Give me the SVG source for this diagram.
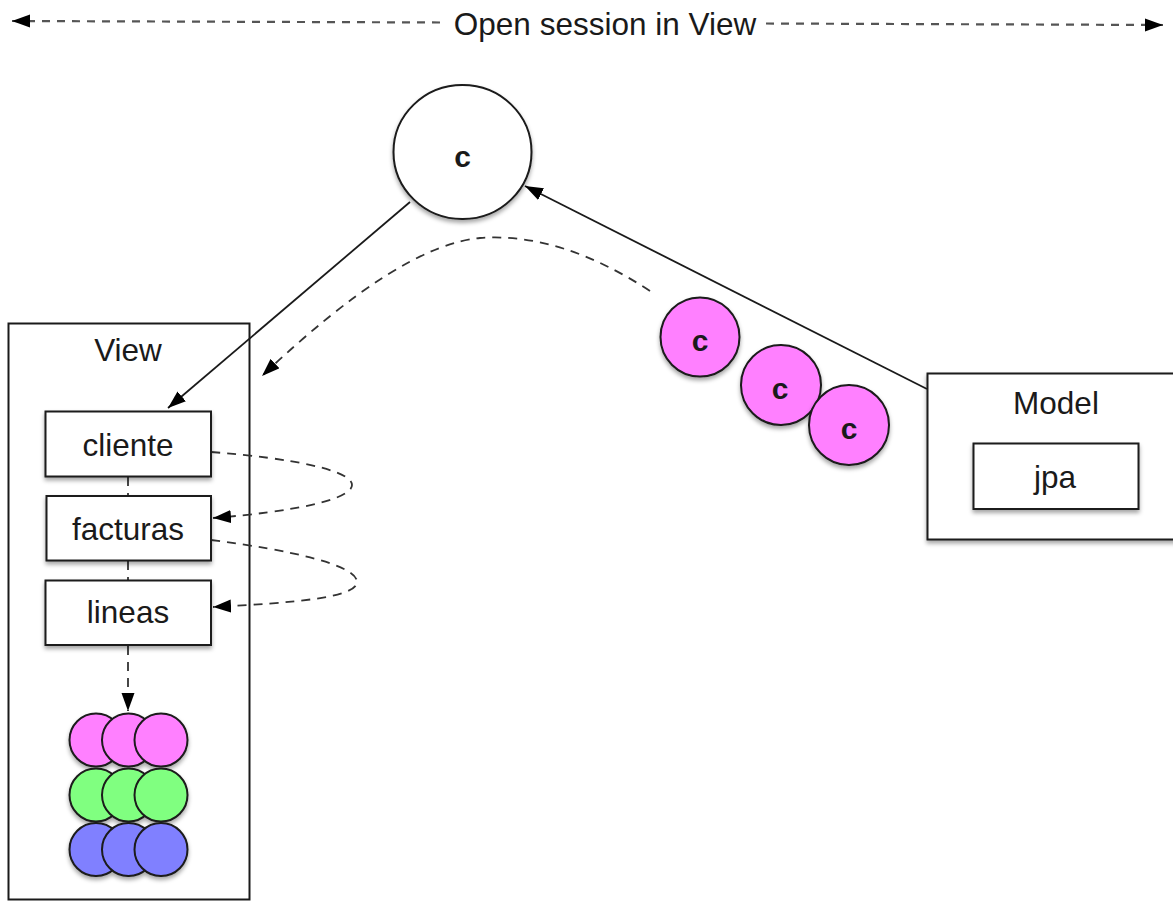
<svg xmlns="http://www.w3.org/2000/svg" width="1173" height="901" viewBox="0 0 1173 901">
  <style>
    .label { font-family: "Liberation Sans", Arial, Helvetica, sans-serif; font-size: 31.5px; fill: #1a1a1a; text-anchor: middle; }
    .tok { font-family: "Liberation Sans", Arial, Helvetica, sans-serif; font-size: 30px; font-weight: bold; fill: #1a1a1a; text-anchor: middle; }
    .box { fill: #ffffff; stroke: #1a1a1a; stroke-width: 2; }
    .frame { fill: #ffffff; stroke: #1a1a1a; stroke-width: 2; }
    .ball { stroke: #1a1a1a; stroke-width: 2; }
    .pink { fill: #ff80ff; }
    .green { fill: #80ff80; }
    .blue { fill: #8080ff; }
    .solid { fill: none; stroke: #1a1a1a; stroke-width: 1.8; }
    .dashed { fill: none; stroke: #333333; stroke-width: 1.8; stroke-dasharray: 9 7; }
    .span { fill: none; stroke: #555555; stroke-width: 2.2; stroke-dasharray: 8 7; }
  </style>
  <defs>
    <marker id="arrow" markerUnits="userSpaceOnUse" markerWidth="19" markerHeight="14" refX="18" refY="6.5" orient="auto-start-reverse">
      <path d="M0,0 L18,6.5 L0,13 Z" fill="#000000"/>
    </marker>
    <filter id="shadow" x="-20%" y="-20%" width="140%" height="150%">
      <feDropShadow dx="0" dy="3" stdDeviation="2" flood-color="#000000" flood-opacity="0.35"/>
    </filter>
  </defs>

  <rect width="1173" height="901" fill="#ffffff"/>

  <!-- session span across the top -->
  <g id="session-span">
    <path class="span" d="M12,21 L446,22.5" marker-start="url(#arrow)"/>
    <path class="span" d="M766,23.5 L1163,25" marker-end="url(#arrow)"/>
    <text class="label" x="605" y="35">Open session in View</text>
  </g>

  <!-- View container -->
  <g id="view">
    <rect class="frame" x="8.5" y="323.5" width="241" height="576"/>
    <text class="label" x="128" y="361">View</text>
  </g>

  <!-- Model container -->
  <g id="model">
    <rect class="frame" x="927.5" y="373.5" width="260" height="166" filter="url(#shadow)"/>
    <text class="label" x="1056" y="414">Model</text>
  </g>

  <g id="jpa">
    <rect class="box" x="973.5" y="443.5" width="165" height="65.5" filter="url(#shadow)"/>
    <text class="label" x="1055" y="488">jpa</text>
  </g>

  <!-- connectors -->
  <g id="connectors">
    <path class="solid" d="M410,202 L168,408" marker-end="url(#arrow)"/>
    <path class="solid" d="M927,389 L525,186" marker-end="url(#arrow)"/>
    <path class="dashed" d="M650,291 Q560,232 480,238 Q400,245 262,376" marker-end="url(#arrow)"/>
    <path class="dashed" d="M211,452 C290,458 352,470 352,485 C352,500 290,512 213,518" marker-end="url(#arrow)"/>
    <path class="dashed" d="M211,540 C290,550 357,565 357,582 C357,598 290,603 213,607" marker-end="url(#arrow)"/>
    <path class="dashed" d="M128,477 L128,496"/>
    <path class="dashed" d="M128,561 L128,580"/>
    <path class="dashed" d="M128,646 L128,711" marker-end="url(#arrow)"/>
  </g>

  <!-- entity boxes inside View -->
  <g id="cliente">
    <rect class="box" x="45.5" y="411.5" width="165.5" height="65" filter="url(#shadow)"/>
    <text class="label" x="128" y="456">cliente</text>
  </g>
  <g id="facturas">
    <rect class="box" x="46.5" y="496" width="164.5" height="64.5" filter="url(#shadow)"/>
    <text class="label" x="128" y="540">facturas</text>
  </g>
  <g id="lineas">
    <rect class="box" x="45.5" y="580.5" width="165.5" height="64.5" filter="url(#shadow)"/>
    <text class="label" x="128" y="623">lineas</text>
  </g>

  <!-- loaded records -->
  <g id="record-stack" filter="url(#shadow)">
    <circle class="ball pink" cx="96" cy="740" r="26.5"/>
    <circle class="ball pink" cx="128.5" cy="740" r="26.5"/>
    <circle class="ball pink" cx="161" cy="740" r="26.5"/>
    <circle class="ball green" cx="96" cy="795" r="26.5"/>
    <circle class="ball green" cx="128.5" cy="795" r="26.5"/>
    <circle class="ball green" cx="161" cy="795" r="26.5"/>
    <circle class="ball blue" cx="96" cy="849.5" r="26.5"/>
    <circle class="ball blue" cx="128.5" cy="849.5" r="26.5"/>
    <circle class="ball blue" cx="161" cy="849.5" r="26.5"/>
  </g>

  <!-- session object -->
  <g id="session-c">
    <ellipse class="ball" cx="462.5" cy="152" rx="69" ry="67" fill="#ffffff" filter="url(#shadow)"/>
    <text class="tok" x="462.5" y="167">c</text>
  </g>

  <!-- queued objects -->
  <g id="c1">
    <circle class="ball pink" cx="700" cy="337" r="39.5" filter="url(#shadow)"/>
    <text class="tok" x="700" y="350.5">c</text>
  </g>
  <g id="c2">
    <circle class="ball pink" cx="781" cy="385" r="40" filter="url(#shadow)"/>
    <text class="tok" x="780" y="398.5">c</text>
  </g>
  <g id="c3">
    <circle class="ball pink" cx="849" cy="425" r="40" filter="url(#shadow)"/>
    <text class="tok" x="849" y="438.5">c</text>
  </g>
</svg>
